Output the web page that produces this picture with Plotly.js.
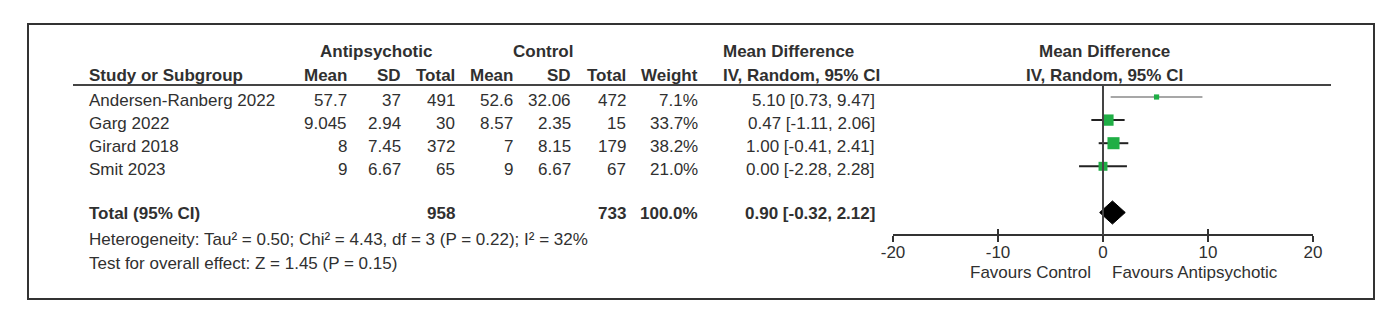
<!DOCTYPE html>
<html>
<head>
<meta charset="utf-8">
<script src="https://cdn.plot.ly/plotly-3.0.1.min.js"></script>
<style>html,body{margin:0;padding:0;background:#fff;}#chart{width:1400px;height:310px;}</style>
</head>
<body>
<div id="chart"></div>
<script>
// ---------- data ----------
const studies = ['Andersen-Ranberg 2022', 'Garg 2022', 'Girard 2018', 'Smit 2023'];
const apMean = [57.7, 9.045, 8, 9];
const apSD = [37, 2.94, 7.45, 6.67];
const apTotal = [491, 30, 372, 65];
const ctMean = [52.6, 8.57, 7, 9];
const ctSD = [32.06, 2.35, 8.15, 6.67];
const ctTotal = [472, 15, 179, 67];
const weight = [7.1, 33.7, 38.2, 21.0];
const md = [5.10, 0.47, 1.00, 0.00];
const ciLo = [0.73, -1.11, -0.41, -2.28];
const ciHi = [9.47, 2.06, 2.41, 2.28];

const totalLabel = 'Total (95% CI)';
const totalAp = 958;
const totalCt = 733;
const totalWeight = 100.0;
const totalMd = 0.90;
const totalLo = -0.32;
const totalHi = 2.12;

const heterogeneity = 'Heterogeneity: Tau\u00b2 = 0.50; Chi\u00b2 = 4.43, df = 3 (P = 0.22); I\u00b2 = 32%';
const overallTest = 'Test for overall effect: Z = 1.45 (P = 0.15)';
const xTicks = [-20, -10, 0, 10, 20];
const favoursLeft = 'Favours Control';
const favoursRight = 'Favours Antipsychotic';

// ---------- layout helpers ----------
const W = 1400, H = 310;
const FONT = 'Liberation Sans, Arial, Helvetica, sans-serif';
const TXT = '#303030';
const FS = 17;
const px = x => x / W;           // pixel -> paper x
const py = y => 1 - y / H;       // pixel -> paper y
const rowIdx = studies.map((_, i) => i);
const totalRow = studies.length + 1;

const fmtCI = (m, l, h) => m.toFixed(2) + ' [' + l.toFixed(2) + ', ' + h.toFixed(2) + ']';

const ann = [];
function addText(text, x, y, anchor, opts) {
  opts = opts || {};
  ann.push({
    text: opts.bold ? '<b>' + text + '</b>' : text,
    x: px(x), xref: 'paper',
    y: opts.yref === 'y' ? y : py(y), yref: opts.yref || 'paper',
    yshift: opts.yshift || 0,
    xanchor: anchor, yanchor: 'middle',
    showarrow: false, borderpad: 0,
    font: {family: FONT, size: opts.size || FS, color: TXT}
  });
}

// header
addText('Antipsychotic', 376, 52, 'center', {bold: true});
addText('Control', 543, 52, 'center', {bold: true});
addText('Mean Difference', 722, 52, 'left', {bold: true});
addText('Mean Difference', 1104, 52, 'center', {bold: true});
addText('Study or Subgroup', 88, 76, 'left', {bold: true});
addText('Mean', 348, 76, 'right', {bold: true});
addText('SD', 402, 76, 'right', {bold: true});
addText('Total', 456, 76, 'right', {bold: true});
addText('Mean', 514, 76, 'right', {bold: true});
addText('SD', 572, 76, 'right', {bold: true});
addText('Total', 627, 76, 'right', {bold: true});
addText('Weight', 699, 76, 'right', {bold: true});
addText('IV, Random, 95% CI', 722, 76, 'left', {bold: true});
addText('IV, Random, 95% CI', 1104, 76, 'center', {bold: true});

// study rows
studies.forEach((s, i) => {
  const o = {yref: 'y', yshift: -3};
  addText(s, 88, rowIdx[i], 'left', o);
  addText(String(apMean[i]), 348, rowIdx[i], 'right', o);
  addText(String(apSD[i]), 402, rowIdx[i], 'right', o);
  addText(String(apTotal[i]), 456, rowIdx[i], 'right', o);
  addText(String(ctMean[i]), 514, rowIdx[i], 'right', o);
  addText(String(ctSD[i]), 572, rowIdx[i], 'right', o);
  addText(String(ctTotal[i]), 627, rowIdx[i], 'right', o);
  addText(weight[i].toFixed(1) + '%', 699, rowIdx[i], 'right', o);
  addText(fmtCI(md[i], ciLo[i], ciHi[i]), 876, rowIdx[i], 'right', o);
});

// total row
{
  const o = {yref: 'y', yshift: -1, bold: true};
  addText(totalLabel, 88, totalRow, 'left', o);
  addText(String(totalAp), 456, totalRow, 'right', o);
  addText(String(totalCt), 627, totalRow, 'right', o);
  addText(totalWeight.toFixed(1) + '%', 699, totalRow, 'right', o);
  addText(fmtCI(totalMd, totalLo, totalHi), 876, totalRow, 'right', o);
}
addText(heterogeneity, 88, 239, 'left');
addText(overallTest, 88, 263, 'left');
addText(favoursLeft, 1092, 272, 'right');
addText(favoursRight, 1111, 272, 'left');

// ---------- traces ----------
const traces = [];
const lineColors = ['#8a8a8a', '#222222', '#222222', '#222222'];
const lineWidths = [1.5, 2, 2, 2];
studies.forEach((s, i) => {
  traces.push({
    type: 'scatter', mode: 'lines', xaxis: 'x', yaxis: 'y',
    x: [ciLo[i], ciHi[i]], y: [rowIdx[i], rowIdx[i]],
    line: {color: lineColors[i], width: lineWidths[i]},
    hoverinfo: 'skip', showlegend: false
  });
});
traces.push({
  type: 'scatter', mode: 'markers', xaxis: 'x', yaxis: 'y',
  x: md, y: rowIdx,
  marker: {symbol: 'square', color: '#1fae45', opacity: 1, size: weight.map(w => 1.95 * Math.sqrt(w)), line: {width: 0}},
  hoverinfo: 'skip', showlegend: false
});
const dh = 0.5;
traces.push({
  type: 'scatter', mode: 'lines', xaxis: 'x', yaxis: 'y',
  x: [totalLo, totalMd, totalHi, totalMd, totalLo],
  y: [totalRow, totalRow - dh, totalRow, totalRow + dh, totalRow],
  fill: 'toself', fillcolor: '#000000', line: {color: '#000000', width: 1},
  hoverinfo: 'skip', showlegend: false
});
// invisible trace on overlay axis so it is drawn
traces.push({
  type: 'scatter', mode: 'markers', xaxis: 'x2', yaxis: 'y',
  x: [xTicks[0]], y: [totalRow], marker: {opacity: 0}, hoverinfo: 'skip', showlegend: false
});

// ---------- layout ----------
const axisPos = py(235);
const pxPerRow = 23.1, row0px = 97;
const yTop = (0 - row0px) / pxPerRow, yBot = (H - row0px) / pxPerRow;
const xDom = [px(893), px(1313)];

const layout = {
  width: W, height: H,
  margin: {l: 0, r: 0, t: 0, b: 0},
  paper_bgcolor: '#ffffff', plot_bgcolor: 'rgba(0,0,0,0)',
  showlegend: false,
  xaxis: {
    domain: xDom, range: [xTicks[0], xTicks[xTicks.length - 1]],
    anchor: 'free', position: axisPos,
    tickvals: xTicks, ticktext: xTicks.map(String),
    ticks: 'outside', ticklen: 6, tickwidth: 2, tickcolor: '#333',
    ticklabelstandoff: -4,
    showline: true, linecolor: '#333', linewidth: 2,
    showgrid: false, zeroline: false,
    tickfont: {family: FONT, size: FS, color: TXT}
  },
  xaxis2: {
    overlaying: 'x', matches: 'x', domain: xDom, range: [xTicks[0], xTicks[xTicks.length - 1]],
    anchor: 'free', position: axisPos,
    tickvals: xTicks, ticks: 'inside', ticklen: 6, tickwidth: 2, tickcolor: '#333',
    showticklabels: false, showline: false, showgrid: false, zeroline: false
  },
  yaxis: {
    domain: [0, 1], range: [yBot, yTop],
    visible: false, showgrid: false, zeroline: false, fixedrange: true
  },
  shapes: [
    // outer frame
    {type: 'rect', xref: 'paper', yref: 'paper', x0: px(28), x1: px(1374), y0: py(24), y1: py(299),
     line: {color: '#333', width: 2}},
    // header underline
    {type: 'line', xref: 'paper', yref: 'paper', x0: px(73), x1: px(1331), y0: py(85), y1: py(85),
     line: {color: '#444', width: 2}},
    // line of no effect
    {type: 'line', xref: 'x', yref: 'paper', x0: 0, x1: 0, y0: py(85), y1: axisPos,
     line: {color: '#444', width: 2}}
  ],
  annotations: ann
};

Plotly.newPlot('chart', traces, layout, {staticPlot: true, displayModeBar: false});
</script>
</body>
</html>
